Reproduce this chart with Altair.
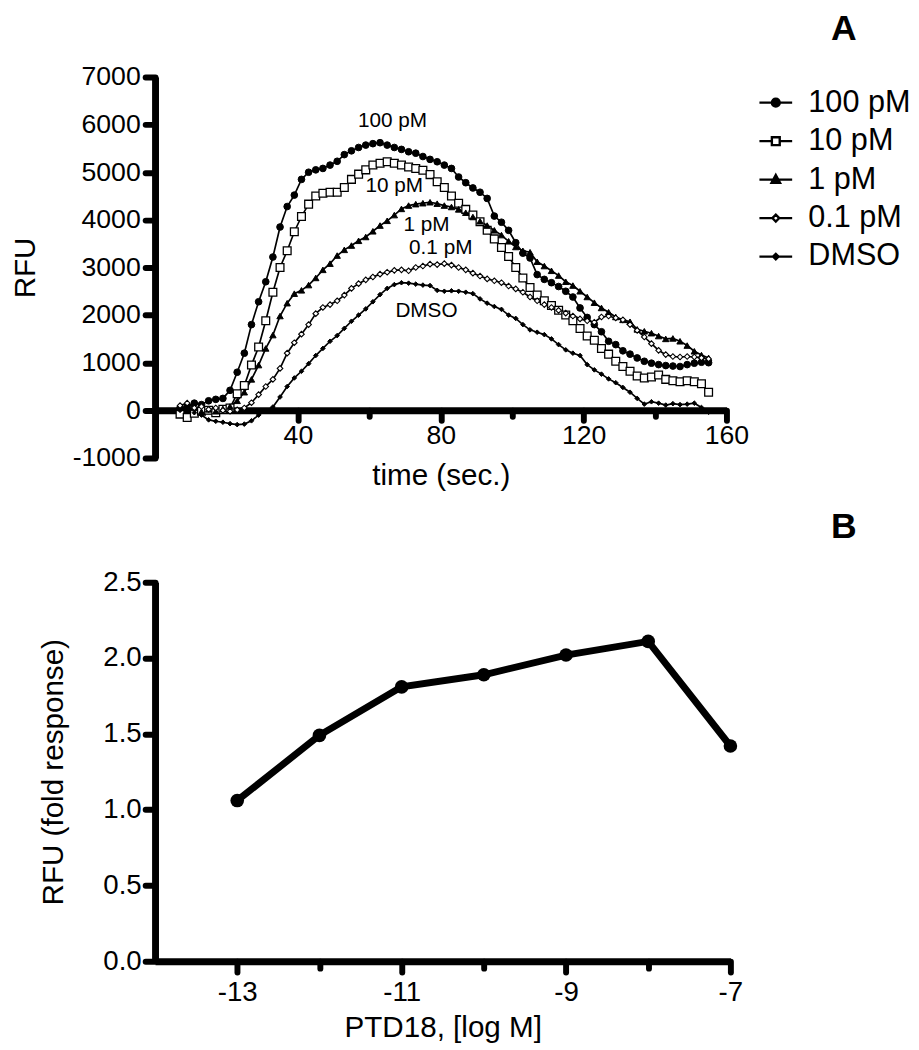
import altair as alt
import pandas as pd

FONT = "Liberation Sans"

# ---------------- Panel A data ----------------
time_s = [7, 9, 11, 13, 15, 17, 19, 21, 23, 25,
          27, 29, 31, 33, 35, 37, 39, 41, 43, 45,
          47, 49, 51, 53, 55, 57, 59, 61, 63, 65,
          67, 69, 71, 73, 75, 77, 79, 81, 83, 85,
          87, 89, 91, 93, 95, 97, 99, 101, 103, 105,
          107, 109, 111, 113, 115, 117, 119, 121, 123, 125,
          127, 129, 131, 133, 135, 137, 139, 141, 143, 145,
          147, 149, 151, 153, 155]

rfu_100pM = [50, 80, 150, 120, 200, 230, 250, 420, 800, 1200,
             1800, 2280, 2700, 3220, 3850, 4280, 4520, 4850, 5000, 5050,
             5080, 5150, 5230, 5370, 5450, 5520, 5570, 5600, 5620, 5570,
             5520, 5480, 5430, 5400, 5330, 5270, 5220, 5150, 5080, 4900,
             4780, 4670, 4580, 4450, 4080, 3950, 3780, 3520, 3300, 3200,
             2850, 2750, 2680, 2600, 2500, 2380, 2150, 1950, 1800, 1650,
             1450, 1380, 1250, 1180, 1100, 1030, 990, 960, 940, 930,
             920, 960, 990, 1010, 1000]

rfu_10pM = [-80, -150, -60, -20, 0, -50, 20, 50, 350, 520,
            950, 1330, 1880, 2480, 3000, 3350, 3750, 4070, 4330, 4500,
            4560, 4580, 4580, 4680, 4850, 4960, 5050, 5150, 5190, 5220,
            5190, 5150, 5110, 5080, 5040, 4950, 4800, 4680, 4500, 4350,
            4220, 4100, 3960, 3780, 3600, 3420, 3230, 3000, 2780, 2580,
            2420, 2300, 2200, 2100, 2000, 1880, 1720, 1560, 1470, 1300,
            1180, 1030, 920, 820, 720, 680, 700, 740, 650, 620,
            600, 620, 600, 560, 380]

rfu_1pM = [50, 0, 50, -30, 20, -20, 30, 80, 200, 380,
           650, 950, 1300, 1580, 1980, 2250, 2450, 2520, 2630, 2780,
           2950, 3080, 3250, 3370, 3460, 3560, 3640, 3760, 3880, 3980,
           4100, 4230, 4300, 4330, 4350, 4370, 4340, 4300, 4270, 4220,
           4150, 4060, 3970, 3880, 3780, 3680, 3550, 3430, 3350, 3320,
           3120, 3030, 2930, 2830, 2700, 2620, 2500, 2380, 2260, 2150,
           2060, 1960, 1900, 1860, 1700, 1660, 1620, 1560, 1500, 1510,
           1450, 1360, 1240, 1160, 1100]

rfu_01pM = [100, 150, 50, 80, 20, 50, 0, -20, 10, 50,
            160, 330, 500, 650, 880, 1200, 1420, 1600, 1800, 2030,
            2160, 2220, 2300, 2420, 2560, 2660, 2740, 2800, 2860, 2900,
            2940, 2950, 2930, 3000, 3030, 3070, 3060, 3080, 3050, 3000,
            2950, 2880, 2820, 2760, 2720, 2680, 2610, 2550, 2480, 2380,
            2300, 2220, 2160, 2100, 2040, 1980, 1920, 1880, 1850, 1960,
            1980, 1940, 1900, 1800, 1680, 1540, 1400, 1260, 1170, 1130,
            1120, 1130, 1120, 1100, 1080]

rfu_dmso = [0, 30, -50, -100, -200, -230, -250, -280, -300, -290,
            -220, -100, -10, 70, 280, 500, 680, 820, 980, 1150,
            1300, 1450, 1570, 1720, 1870, 2000, 2130, 2280, 2430, 2560,
            2640, 2680, 2670, 2650, 2630, 2620, 2520, 2500, 2510, 2500,
            2480, 2450, 2340, 2250, 2180, 2120, 2000, 1930, 1800, 1690,
            1640, 1590, 1500, 1380, 1270, 1200, 1150, 960, 850, 760,
            660, 580, 480, 380, 250, 130, 180, 150, 110, 140,
            120, 130, 150, 60, -40]

series_names = ["100 pM", "10 pM", "1 pM", "0.1 pM", "DMSO"]

# inline curve labels
label_text = ["100 pM", "10 pM", "1 pM", "0.1 pM", "DMSO"]
label_t = [66.5, 67.0, 76.0, 80.0, 76.0]
label_v = [6080, 4700, 3880, 3400, 2090]

# ---------------- Panel B data ----------------
log_conc = [-13, -12, -11, -10, -9, -8, -7]
fold_resp = [1.06, 1.49, 1.81, 1.89, 2.02, 2.11, 1.42]

# ---------------- build tables ----------------
rows = []
for name, vals in zip(series_names, [rfu_100pM, rfu_10pM, rfu_1pM, rfu_01pM, rfu_dmso]):
    for t, v in zip(time_s, vals):
        rows.append({"series": name, "t": t, "v": v})
df = pd.DataFrame(rows)
lab_df = pd.DataFrame({"label": label_text, "t": label_t, "v": label_v})
dfb = pd.DataFrame({"x": log_conc, "y": fold_resp})

AX = dict(domainColor="black", domainWidth=7, tickColor="black", tickWidth=6,
          tickCap="round", grid=False, labelFont=FONT, labelColor="black",
          titleFont=FONT, titleColor="black", titleFontWeight="normal",
          labelOverlap=False)

# ---------------- Panel A ----------------
x_a = alt.X("t:Q", scale=alt.Scale(domain=[0, 160], nice=False),
            axis=alt.Axis(values=[40, 60, 80, 100, 120, 140, 160],
                          labelExpr="datum.value % 40 === 0 ? '' + datum.value : ''",
                          tickSize={"condition": {"test": "datum.value % 40 === 0", "value": 10}, "value": 6},
                          offset=-48.25, title="time (sec.)", labelFlush=False,
                          labelFontSize=27, titleFontSize=30,
                          labelPadding=3, titlePadding=12, **AX))
y_a = alt.Y("v:Q", scale=alt.Scale(domain=[-1000, 7000], nice=False),
            axis=alt.Axis(values=[-1000, 0, 1000, 2000, 3000, 4000, 5000, 6000, 7000],
                          labelExpr="'' + datum.value",
                          title="RFU", tickSize=10, labelPadding=5,
                          labelFontSize=27, titleFontSize=30,
                          titlePadding=32, **AX))

lines = alt.Chart(df).mark_line(color="black", strokeWidth=1.7).encode(
    x=x_a, y=y_a, detail="series:N", order="t:Q")

marker_styles = {
    "100 pM": dict(shape="circle", size=46, fill="black", strokeWidth=1),
    "10 pM": dict(shape="square", size=62, fill="white", strokeWidth=1.3),
    "1 pM": dict(shape="triangle-up", size=42, fill="black", strokeWidth=1),
    "0.1 pM": dict(shape="diamond", size=32, fill="white", strokeWidth=1.1),
    "DMSO": dict(shape="diamond", size=22, fill="black", strokeWidth=1),
}
point_layers = []
for name in series_names:
    st = marker_styles[name]
    point_layers.append(
        alt.Chart(df).transform_filter(alt.datum.series == name).mark_point(
            shape=st["shape"], size=st["size"], filled=True, fill=st["fill"],
            stroke="black", strokeWidth=st["strokeWidth"], opacity=1
        ).encode(x="t:Q", y="v:Q")
    )

labels = alt.Chart(lab_df).mark_text(font=FONT, fontSize=21, color="black").encode(
    x="t:Q", y="v:Q", text="label:N")

tag_a = alt.Chart(pd.DataFrame({"k": [0]})).mark_text(
    text="A", font=FONT, fontSize=36, fontWeight="bold", color="black"
).encode(x=alt.value(698), y=alt.value(-48))

legend_paths = [
    "M-1,0H1M-0.24,0A0.24,0.24,0,1,0,0.24,0A0.24,0.24,0,1,0,-0.24,0Z",
    "M-1,0H-0.24M0.24,0H1M-0.24,-0.24H0.24V0.24H-0.24Z",
    "M-1,0H1M0,-0.28L0.26,0.2H-0.26Z",
    "M-1,0H-0.21M0.21,0H1M-0.21,0L0,-0.21L0.21,0L0,0.21Z",
    "M-1,0H1M-0.17,0L0,-0.17L0.17,0L0,0.17Z",
]
legend_fills = ["black", "white", "black", "white", "black"]
legend_strokes = ["black", "black", "black", "black", "black"]
leg = alt.Legend(title=None, orient="none", legendX=611, legendY=8,
                 labelFont=FONT, labelFontSize=31, labelColor="black",
                 symbolSize=1100, symbolStrokeWidth=2.4, symbolStrokeColor="black",
                 symbolOpacity=1, rowPadding=6, labelOffset=15)
legend_layer = alt.Chart(df).transform_filter("datum.t < 0").mark_point(
    filled=True, opacity=1
).encode(
    x="t:Q", y="v:Q",
    shape=alt.Shape("series:N", scale=alt.Scale(domain=series_names, range=legend_paths), legend=leg),
    fill=alt.Fill("series:N", scale=alt.Scale(domain=series_names, range=legend_fills), legend=leg),
    stroke=alt.Stroke("series:N", scale=alt.Scale(domain=series_names, range=legend_strokes), legend=leg),
)

panel_a = alt.layer(lines, *point_layers, labels, tag_a, legend_layer).properties(
    width=579, height=386)

# ---------------- Panel B ----------------
x_b = alt.X("x:Q", scale=alt.Scale(domain=[-14, -7], nice=False),
            axis=alt.Axis(values=[-13, -12, -11, -10, -9, -8, -7],
                          labelExpr="datum.value % 2 !== 0 ? '' + datum.value : ''",
                          tickSize={"condition": {"test": "datum.value % 2 !== 0", "value": 11}, "value": 7},
                          title="PTD18, [log M]", labelFlush=False,
                          labelFontSize=28, titleFontSize=30,
                          labelPadding=7, titlePadding=6, **AX))
y_b = alt.Y("y:Q", scale=alt.Scale(domain=[0, 2.5], nice=False),
            axis=alt.Axis(values=[0, 0.5, 1.0, 1.5, 2.0, 2.5], format=".1f",
                          title="RFU (fold response)", tickSize=10, labelPadding=4,
                          labelFontSize=28, titleFontSize=30,
                          titlePadding=35, **AX))

line_b = alt.Chart(dfb).mark_line(color="black", strokeWidth=7).encode(x=x_b, y=y_b)
pts_b = alt.Chart(dfb).mark_point(filled=True, color="black", size=190, opacity=1).encode(
    x="x:Q", y="y:Q")
tag_b = alt.Chart(pd.DataFrame({"k": [0]})).mark_text(
    text="B", font=FONT, fontSize=36, fontWeight="bold", color="black"
).encode(x=alt.value(698), y=alt.value(-56))

panel_b = alt.layer(line_b, pts_b, tag_b).properties(width=583, height=384)

chart = alt.vconcat(panel_a, panel_b, spacing=19).properties(
    padding={"left": 2, "top": -3, "right": 0, "bottom": 0},
    background="white",
).configure_view(stroke=None).configure_axis(
    domainWidth=7, tickWidth=6, domainColor="black", tickColor="black"
)

chart.save("out.html", embed_options={"renderer": "svg", "actions": False})
